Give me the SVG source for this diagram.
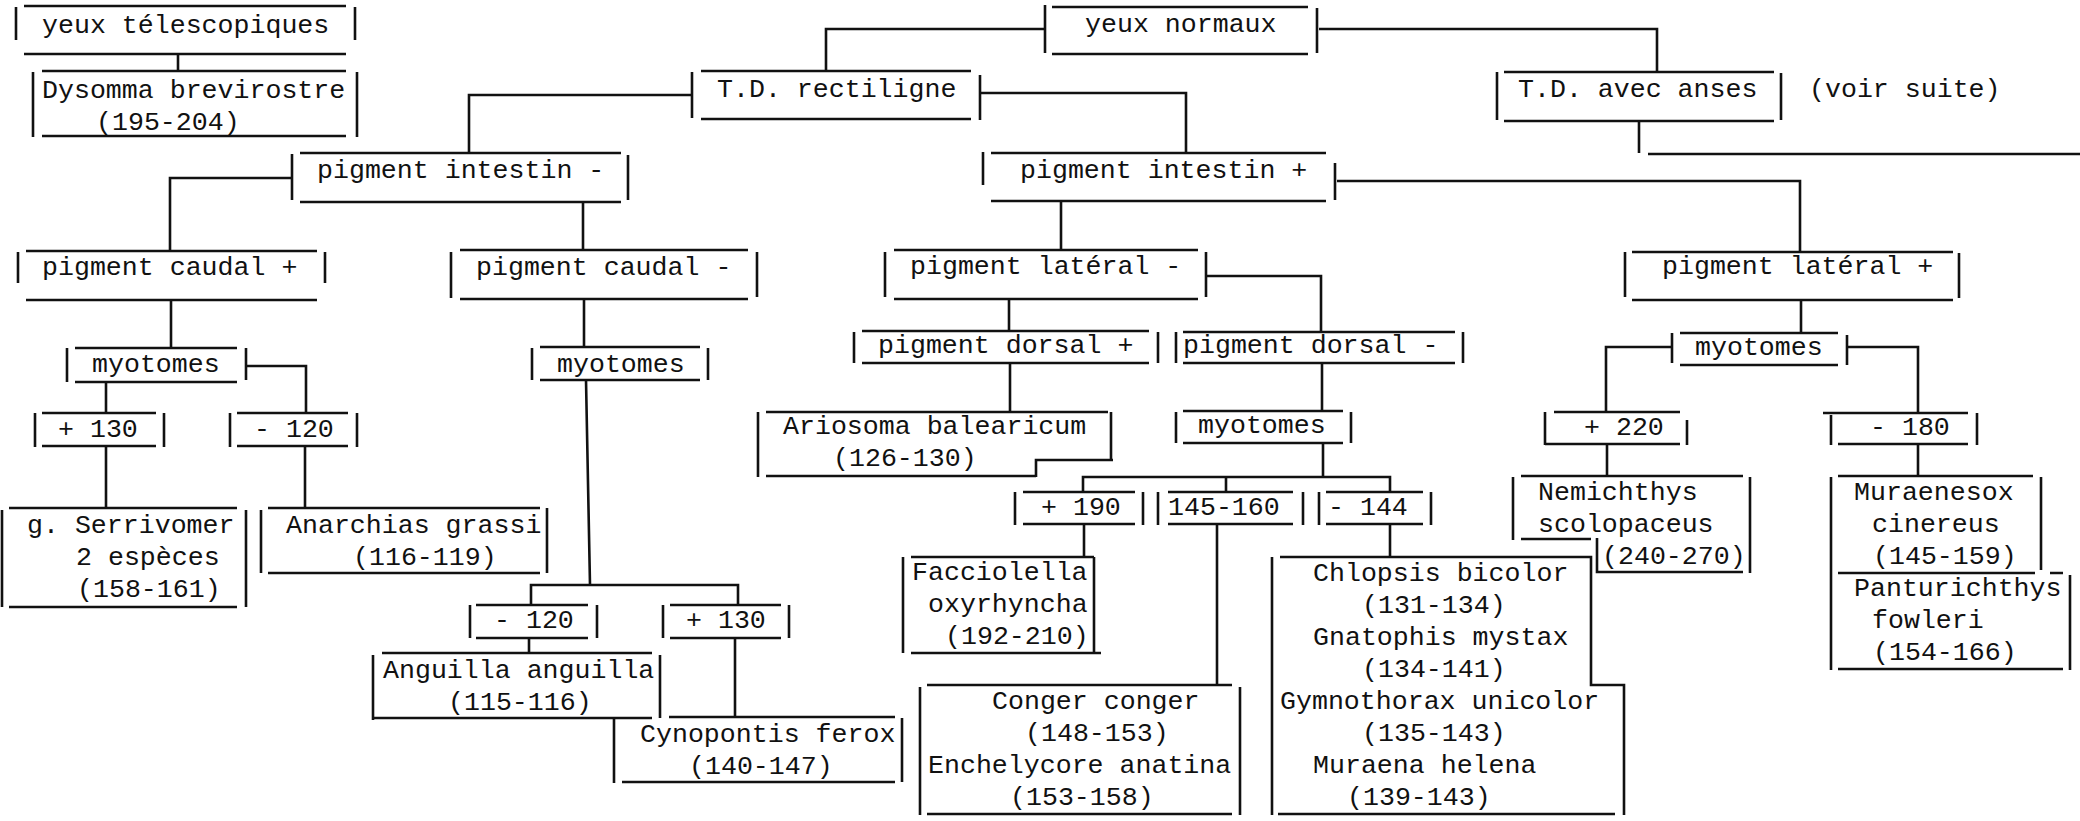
<svg xmlns="http://www.w3.org/2000/svg" width="2080" height="821" viewBox="0 0 2080 821">
<style>
.l{stroke:#111;stroke-width:2.6;fill:none;stroke-linecap:butt}
.c{stroke:#111;stroke-width:2.6;fill:none}
text{font-family:"Liberation Mono","DejaVu Sans Mono",monospace;font-size:26.6px;fill:#111}
</style>
<rect width="2080" height="821" fill="#fff"/>
<g id="connectors">
<path class="c" d="M178,54V71"/>
<path class="c" d="M1045,29H826V71"/>
<path class="c" d="M1319,29H1657V72"/>
<path class="c" d="M692,95H469V153"/>
<path class="c" d="M980,93H1186V153"/>
<path class="c" d="M1639,122V153M1648,154H2080"/>
<path class="c" d="M292,178H170V251"/>
<path class="c" d="M583,202V250"/>
<path class="c" d="M1061,202V250"/>
<path class="c" d="M1337,181H1800V252"/>
<path class="c" d="M171,300V348"/>
<path class="c" d="M584,299V347"/>
<path class="c" d="M1009,299V331"/>
<path class="c" d="M1206,276H1321V332"/>
<path class="c" d="M1801,300V333"/>
<path class="c" d="M106,382V413"/>
<path class="c" d="M246,366H306V413"/>
<path class="c" d="M106,447V508"/>
<path class="c" d="M305,447V508"/>
<path class="c" d="M586,380L590,585M531,605V585H738V605"/>
<path class="c" d="M529,638V653"/>
<path class="c" d="M735,638V717"/>
<path class="c" d="M1010,363V412"/>
<path class="c" d="M1322,363V411"/>
<path class="c" d="M1323,443V477M1083,492V477H1390V492M1226,477V492"/>
<path class="c" d="M1084,525V557"/>
<path class="c" d="M1217,525V685"/>
<path class="c" d="M1390,525V557"/>
<path class="c" d="M1672,347H1606V412"/>
<path class="c" d="M1847,347H1918V413"/>
<path class="c" d="M1607,445V476"/>
<path class="c" d="M1918,445V476"/>
</g>
<g id="n-yeux-telescopiques">
<path class="l" d="M16,7V40M24,6H346M355,7V40M24,54H346"/>
<text x="42" y="33">yeux télescopiques</text>
</g>
<g id="n-dysomma">
<path class="l" d="M42,71H346M33,72V137M357,72V137M42,136H346"/>
<text x="42" y="98">Dysomma brevirostre</text>
<text x="96" y="130">(195-204)</text>
</g>
<g id="n-yeux-normaux">
<path class="l" d="M1045,5V53M1052,7H1308M1052,54H1308M1317,8V53"/>
<text x="1085" y="32">yeux normaux</text>
</g>
<g id="n-td-rectiligne">
<path class="l" d="M692,72V118M701,71H971M701,119H971M980,75V120"/>
<text x="717" y="97">T.D. rectiligne</text>
</g>
<g id="n-td-anses">
<path class="l" d="M1497,72V120M1504,72H1774M1504,121H1774M1781,73V120"/>
<text x="1518" y="97">T.D. avec anses</text>
<text x="1809" y="97">(voir suite)</text>
</g>
<g id="n-intestin-moins">
<path class="l" d="M292,154V200M300,153H621M300,202H621M628,155V200"/>
<text x="317" y="178">pigment intestin -</text>
</g>
<g id="n-intestin-plus">
<path class="l" d="M983,152V185M991,153H1326M991,201H1326M1335,163V200"/>
<text x="1020" y="178">pigment intestin +</text>
</g>
<g id="n-caudal-plus">
<path class="l" d="M18,252V283M26,251H317M26,300H317M325,252V283"/>
<text x="42" y="275">pigment caudal +</text>
</g>
<g id="n-caudal-moins">
<path class="l" d="M451,252V298M460,250H748M460,299H748M757,252V297"/>
<text x="476" y="275">pigment caudal -</text>
</g>
<g id="n-lateral-moins">
<path class="l" d="M885,252V297M894,250H1198M894,299H1198M1206,252V297"/>
<text x="910" y="274">pigment latéral -</text>
</g>
<g id="n-lateral-plus">
<path class="l" d="M1625,252V297M1632,252H1953M1632,300H1953M1959,253V298"/>
<text x="1662" y="274">pigment latéral +</text>
</g>
<g id="n-myotomes-l">
<path class="l" d="M67,348V382M75,348H237M75,382H237M246,348V380"/>
<text x="92" y="372">myotomes</text>
</g>
<g id="n-plus130-l">
<path class="l" d="M35,413V447M42,413H156M42,446H156M164,413V447"/>
<text x="58" y="437">+ 130</text>
</g>
<g id="n-moins120-l">
<path class="l" d="M230,413V447M237,413H348M237,446H348M357,413V447"/>
<text x="254" y="437">- 120</text>
</g>
<g id="n-serrivomer">
<path class="l" d="M9,508H237M2,510V607M246,510V607M9,607H237"/>
<text x="27" y="533">g. Serrivomer</text>
<text x="76" y="565">2 espèces</text>
<text x="77" y="597">(158-161)</text>
</g>
<g id="n-anarchias">
<path class="l" d="M261,510V573M268,508H540M268,573H540M547,508V573"/>
<text x="286" y="533">Anarchias grassi</text>
<text x="353" y="565">(116-119)</text>
</g>
<g id="n-myotomes-m">
<path class="l" d="M532,348V380M540,347H700M540,380H700M708,348V380"/>
<text x="557" y="372">myotomes</text>
</g>
<g id="n-moins120-m">
<path class="l" d="M470,605V638M476,605H588M476,638H588M597,605V638"/>
<text x="494" y="628">- 120</text>
</g>
<g id="n-plus130-m">
<path class="l" d="M663,605V638M670,605H781M670,638H781M789,605V638"/>
<text x="686" y="628">+ 130</text>
</g>
<g id="n-anguilla">
<path class="l" d="M382,653H652M373,655V720M373,718H652M660,655V718"/>
<text x="383" y="678">Anguilla anguilla</text>
<text x="448" y="710">(115-116)</text>
</g>
<g id="n-cynopontis">
<path class="l" d="M669,717H895M614,719V783M622,782H895M902,718V782"/>
<text x="640" y="742">Cynopontis ferox</text>
<text x="689" y="774">(140-147)</text>
</g>
<g id="n-dorsal-plus">
<path class="l" d="M854,332V363M862,331H1149M862,363H1149M1158,332V363"/>
<text x="878" y="353">pigment dorsal +</text>
</g>
<g id="n-dorsal-moins">
<path class="l" d="M1176,332V363M1183,332H1455M1183,363H1455M1463,332V363"/>
<text x="1183" y="353">pigment dorsal -</text>
</g>
<g id="n-ariosoma">
<path class="l" d="M758,412V477M766,412H1108M1111,412V460M1113,460H1036V477M766,476H1036"/>
<text x="783" y="434">Ariosoma balearicum</text>
<text x="833" y="466">(126-130)</text>
</g>
<g id="n-myotomes-d">
<path class="l" d="M1176,412V443M1183,411H1343M1183,443H1343M1351,412V443"/>
<text x="1198" y="433">myotomes</text>
</g>
<g id="n-plus190">
<path class="l" d="M1015,492V525M1023,492H1135M1023,524H1135M1143,492V525"/>
<text x="1041" y="515">+ 190</text>
</g>
<g id="n-145-160">
<path class="l" d="M1158,492V525M1168,492H1293M1168,524H1293M1303,492V525"/>
<text x="1168" y="515">145-160</text>
</g>
<g id="n-moins144">
<path class="l" d="M1319,492V525M1326,492H1423M1326,524H1423M1431,492V525"/>
<text x="1328" y="515">- 144</text>
</g>
<g id="n-facciolella">
<path class="l" d="M903,557V653M911,557H1094M911,653H1101M1094,557V653"/>
<text x="912" y="580">Facciolella</text>
<text x="928" y="612">oxyrhyncha</text>
<text x="945" y="644">(192-210)</text>
</g>
<g id="n-conger">
<path class="l" d="M920,687V815M927,685H1232M927,814H1232M1240,687V815"/>
<text x="992" y="709">Conger conger</text>
<text x="1025" y="741">(148-153)</text>
<text x="928" y="773">Enchelycore anatina</text>
<text x="1010" y="805">(153-158)</text>
</g>
<g id="n-chlopsis">
<path class="l" d="M1272,557V815M1280,557H1591V685H1624V815M1278,814H1615"/>
<text x="1313" y="581">Chlopsis bicolor</text>
<text x="1362" y="613">(131-134)</text>
<text x="1313" y="645">Gnatophis mystax</text>
<text x="1362" y="677">(134-141)</text>
<text x="1280" y="709">Gymnothorax unicolor</text>
<text x="1362" y="741">(135-143)</text>
<text x="1313" y="773">Muraena helena</text>
<text x="1347" y="805">(139-143)</text>
</g>
<g id="n-myotomes-r">
<path class="l" d="M1672,333V363M1680,333H1838M1680,365H1838M1847,335V365"/>
<text x="1695" y="355">myotomes</text>
</g>
<g id="n-plus220">
<path class="l" d="M1545,412V445M1554,412H1680M1545,444H1680M1687,420V445"/>
<text x="1584" y="435">+ 220</text>
</g>
<g id="n-moins180">
<path class="l" d="M1823,413H1968M1831,415V445M1838,444H1968M1977,413V445"/>
<text x="1870" y="435">- 180</text>
</g>
<g id="n-nemichthys">
<path class="l" d="M1521,476H1743M1513,477V540M1521,539H1591M1597,538V572H1743M1750,477V573"/>
<text x="1538" y="500">Nemichthys</text>
<text x="1538" y="532">scolopaceus</text>
<text x="1602" y="564">(240-270)</text>
</g>
<g id="n-muraenesox">
<path class="l" d="M1831,477V573M1838,476H2033M2041,477V570M1838,573H2035"/>
<text x="1854" y="500">Muraenesox</text>
<text x="1872" y="532">cinereus</text>
<text x="1873" y="564">(145-159)</text>
</g>
<g id="n-panturichthys">
<path class="l" d="M1831,573V670M2050,573H2063M2070,575V670M1838,669H2063"/>
<text x="1854" y="596">Panturichthys</text>
<text x="1872" y="628">fowleri</text>
<text x="1873" y="660">(154-166)</text>
</g>
</svg>
